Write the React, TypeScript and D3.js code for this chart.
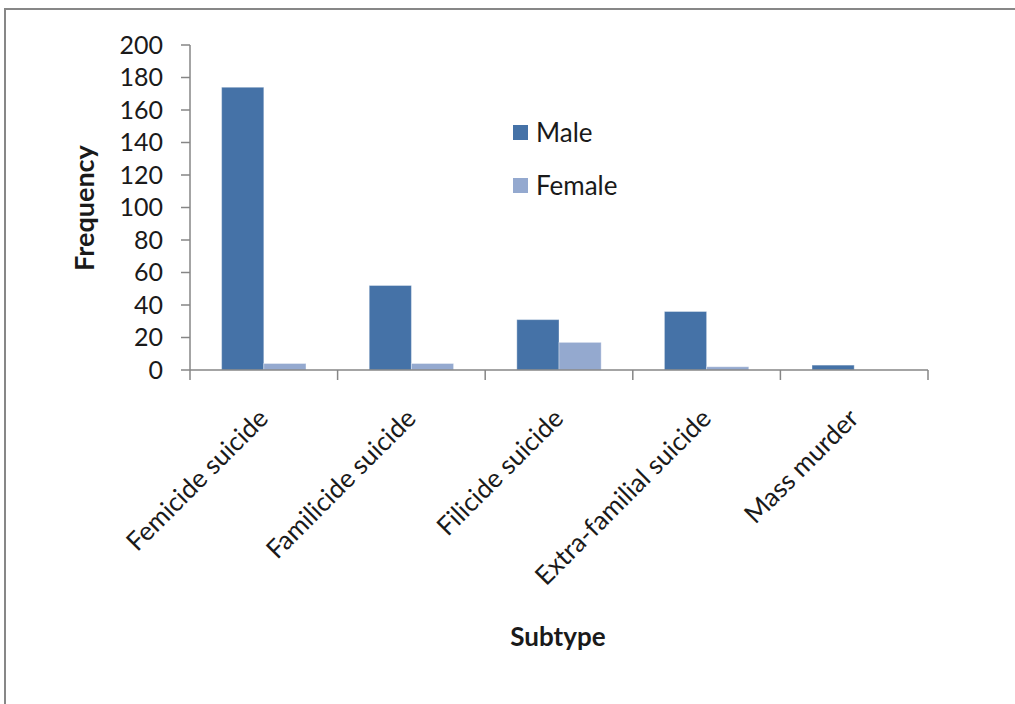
import React from "react";
import * as d3 from "d3";

const categories = [
  "Femicide suicide",
  "Familicide suicide",
  "Filicide suicide",
  "Extra-familial suicide",
  "Mass murder",
];
const seriesNames = ["Male", "Female"];
const maleValues = [174, 52, 31, 36, 3];
const femaleValues = [4, 4, 17, 2, 0];
const yTicks = [0, 20, 40, 60, 80, 100, 120, 140, 160, 180, 200];

const colors: Record<string, string> = { Male: "#4572A7", Female: "#94A9CF" };
const FONT = "Lato, 'Open Sans', sans-serif";

export default function App() {
  const width = 1015;
  const height = 704;
  const plot = { left: 190, right: 928, top: 45, bottom: 370 };

  const x = d3
    .scaleBand<string>()
    .domain(categories)
    .range([plot.left, plot.right])
    .padding(0);
  const xs = d3
    .scaleBand<string>()
    .domain(seriesNames)
    .range([0, x.bandwidth()])
    .paddingInner(0)
    .paddingOuter(0.75);
  const y = d3.scaleLinear().domain([0, 200]).range([plot.bottom, plot.top]);

  const rows = categories.map((c, i) => ({
    category: c,
    values: [
      { series: "Male", value: maleValues[i] },
      { series: "Female", value: femaleValues[i] },
    ],
  }));

  const boundaries = [...categories.map((c) => x(c)!), plot.right];
  const axisColor = "#868686";

  return (
    <svg
      width={width}
      height={height}
      style={{ position: "absolute", left: 0, top: 0, background: "#fff" }}
      fontFamily={FONT}
    >
      <rect x={0} y={0} width={width} height={height} fill="#fff" />
      {/* outer chart frame */}
      <path
        d={`M5,${height + 5} V9 H${width + 5}`}
        fill="none"
        stroke="#878787"
        strokeWidth={2}
      />

      {/* bars */}
      {rows.map((r) =>
        r.values.map((v) => (
          <rect
            key={r.category + v.series}
            x={x(r.category)! + xs(v.series)!}
            y={y(v.value)}
            width={xs.bandwidth()}
            height={plot.bottom - y(v.value)}
            fill={colors[v.series]}
            stroke="#ffffff"
            strokeOpacity={0.35}
            strokeWidth={1}
          />
        ))
      )}

      {/* y axis */}
      <line x1={plot.left} x2={plot.left} y1={plot.top} y2={plot.bottom} stroke={axisColor} strokeWidth={1.5} />
      {yTicks.map((t) => (
        <g key={t}>
          <line x1={plot.left - 9} x2={plot.left} y1={y(t)} y2={y(t)} stroke={axisColor} strokeWidth={1.5} />
          <text
            x={plot.left - 27}
            y={y(t)}
            dy="0.35em"
            textAnchor="end"
            fontSize={25}
            fill="#1a1a1a"
          >
            {t}
          </text>
        </g>
      ))}

      {/* x axis */}
      <line x1={plot.left} x2={plot.right} y1={plot.bottom} y2={plot.bottom} stroke={axisColor} strokeWidth={1.5} />
      {boundaries.map((b, i) => (
        <line key={i} x1={b} x2={b} y1={plot.bottom} y2={plot.bottom + 10} stroke={axisColor} strokeWidth={1.5} />
      ))}
      {categories.map((c) => (
        <text
          key={c}
          transform={`translate(${x(c)! + x.bandwidth() / 2 + 6},${plot.bottom + 50}) rotate(-45)`}
          textAnchor="end"
          fontSize={26}
          fill="#1a1a1a"
        >
          {c}
        </text>
      ))}

      {/* axis titles */}
      <text
        transform={`translate(94,208) rotate(-90)`}
        textAnchor="middle"
        fontSize={27}
        fontWeight="bold"
        fill="#1a1a1a"
      >
        Frequency
      </text>
      <text x={558} y={646} textAnchor="middle" fontSize={26} fontWeight="bold" fill="#1a1a1a">
        Subtype
      </text>

      {/* legend */}
      {seriesNames.map((s, i) => (
        <g key={s} transform={`translate(513,${125 + i * 53})`}>
          <rect x={0} y={0} width={15} height={15} fill={colors[s]} />
          <text x={23} y={7.5} dy="0.35em" fontSize={26} fill="#1a1a1a">
            {s}
          </text>
        </g>
      ))}
    </svg>
  );
}
